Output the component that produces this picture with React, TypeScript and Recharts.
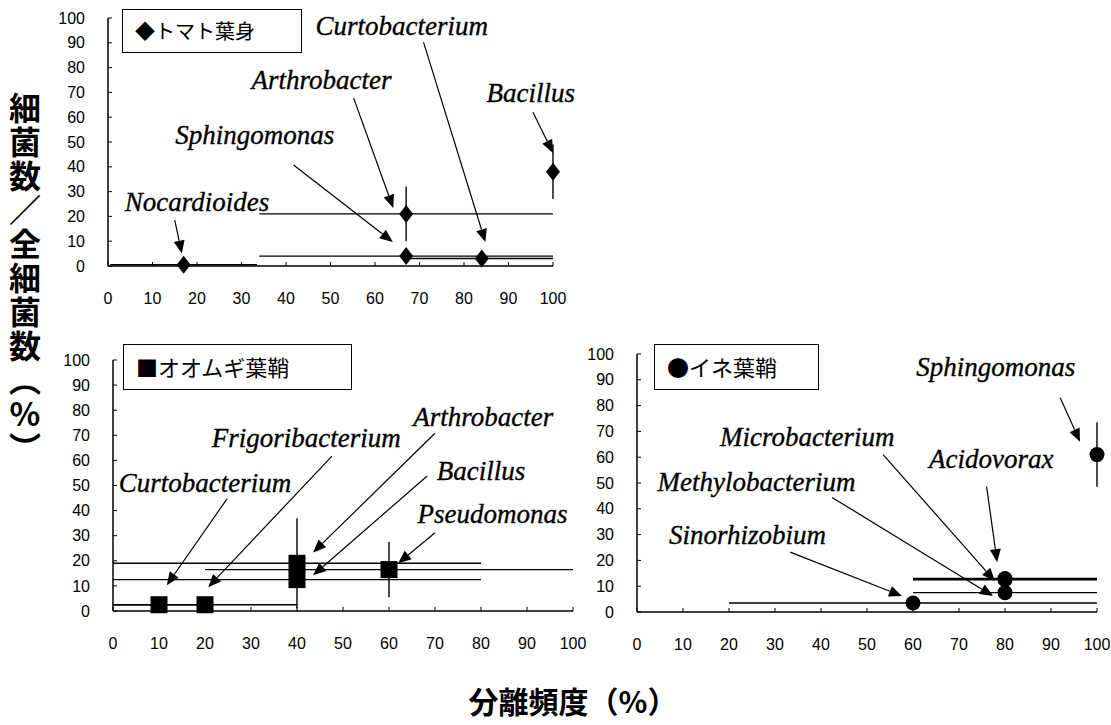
import { ScatterChart, Scatter, XAxis, YAxis, ErrorBar, ReferenceLine, ReferenceDot } from 'recharts';

const ticks = [0, 10, 20, 30, 40, 50, 60, 70, 80, 90, 100];

// トマト葉身
const tomatoNames = ['Nocardioides', 'Sphingomonas', 'Arthrobacter', 'Curtobacterium', 'Bacillus'];
const tomatoFreq = [17, 67, 67, 84, 100];
const tomatoRatio = [0.5, 4, 21, 3, 38];
const tomatoFreqErr = [16.5, 33, 33, 16, 0];
const tomatoRatioErr = [0, 0, 11, 0, 11];
const tomatoLabelPos = [[20, 26], [33, 53], [48, 75], [66, 97], [95, 70]];
const tomatoArrows = [
  [[15, 18.5], [16.6, 5]],
  [[41.7, 40.7], [64, 9.7]],
  [[55.2, 67.7], [64.1, 23.4]],
  [[70.9, 90.3], [84.8, 9.7]],
  [[95.5, 62], [100, 45.6]],
];

// オオムギ葉鞘
const barleyNames = ['Curtobacterium', 'Frigoribacterium', 'Arthrobacter', 'Bacillus', 'Pseudomonas'];
const barleyFreq = [10, 20, 40, 40, 60];
const barleyRatio = [2.5, 2.5, 19, 12.5, 16.5];
const barleyFreqErr = [10, 20, 40, 40, 40];
const barleyRatioErr = [0, 0, 18, 0, 11];
const barleyLabelPos = [[20, 51], [42, 69], [80.5, 77.5], [80, 56], [82.5, 39]];
const barleyArrows = [
  [[24.8, 44.7], [11.7, 10.3]],
  [[47.6, 61.7], [20.7, 9.5]],
  [[70, 70.8], [43.5, 23.3]],
  [[68.3, 53.8], [43.5, 14.2]],
  [[70, 31.2], [62, 19]],
];

// イネ葉鞘
const riceNames = ['Sinorhizobium', 'Methylobacterium', 'Microbacterium', 'Acidovorax', 'Sphingomonas'];
const riceFreq = [60, 80, 80, 80, 100];
const riceRatio = [3.5, 7.5, 12.5, 13, 61];
const riceFreqErr = [40, 20, 20, 20, 0];
const riceRatioErr = [0, 0, 0, 0, 12.5];
const riceLabelPos = [[24, 30], [26, 50.6], [37, 68], [77, 59.5], [78, 95]];
const riceArrows = [
  [[33.3, 23.2], [57.6, 6.2]],
  [[42.4, 44.4], [77.4, 6.2]],
  [[53.5, 61], [77.8, 12]],
  [[76, 48.6], [78.3, 19.3]],
  [[92, 83], [96.3, 66]],
];

const build = (names: string[], xs: number[], ys: number[], ex: number[], ey: number[]) =>
  names.map((name, i) => ({ name, x: xs[i], y: ys[i], ex: ex[i], ey: ey[i] }));

const tickFont = '"Liberation Sans", Arial, sans-serif';
const labelFont = '"Liberation Serif", "Times New Roman", serif';
const jpFont = '"Noto Sans CJK JP", sans-serif';

const YTick = (p: any) => (
  <g>
    <line x1={p.x} x2={p.x + 4} y1={p.y} y2={p.y} stroke="#000" strokeWidth={1} />
    <text x={p.x - 23} y={p.y} dy="0.35em" textAnchor="end" fontSize={16} fontFamily={tickFont} fill="#000">
      {p.payload.value}
    </text>
  </g>
);

const XTick = (p: any) => (
  <g>
    <line x1={p.x} x2={p.x} y1={p.y} y2={p.y - 4} stroke="#000" strokeWidth={1} />
    <text x={p.x} y={p.y + 32} dy="0.35em" textAnchor="middle" fontSize={16} fontFamily={tickFont} fill="#000">
      {p.payload.value}
    </text>
  </g>
);

const Arrow = (p: any) => {
  const { x1, y1, x2, y2 } = p;
  const dx = x2 - x1;
  const dy = y2 - y1;
  const len = Math.hypot(dx, dy) || 1;
  const ux = dx / len;
  const uy = dy / len;
  const L = 13;
  const W = 5.5;
  const bx = x2 - ux * L;
  const by = y2 - uy * L;
  return (
    <g>
      <line x1={x1} y1={y1} x2={bx} y2={by} stroke="#000" strokeWidth={1.2} />
      <polygon points={`${x2},${y2} ${bx - uy * W},${by + ux * W} ${bx + uy * W},${by - ux * W}`} fill="#000" />
    </g>
  );
};

const diamond = (p: any) => (
  <polygon points={`${p.cx},${p.cy - 9} ${p.cx + 7},${p.cy} ${p.cx},${p.cy + 9} ${p.cx - 7},${p.cy}`} fill="#000" />
);
const square = (p: any) => <rect x={p.cx - 8.5} y={p.cy - 8.5} width={17} height={17} fill="#000" />;
const circle = (p: any) => <circle cx={p.cx} cy={p.cy} r={7.5} fill="#000" />;

type PanelProps = {
  left: number;
  top: number;
  width: number;
  height: number;
  margin: { top: number; right: number; bottom: number; left: number };
  yWidth: number;
  data: any[];
  labelPos: number[][];
  arrows: number[][][];
  shape: any;
};

const Panel = ({ left, top, width, height, margin, yWidth, data, labelPos, arrows, shape }: PanelProps) => (
  <div style={{ position: 'absolute', left, top }}>
    <ScatterChart width={width} height={height} margin={margin}>
      <XAxis
        type="number"
        dataKey="x"
        domain={[0, 100]}
        ticks={ticks}
        height={40}
        tickSize={0}
        tickMargin={0}
        tickLine={false}
        axisLine={{ stroke: '#000', strokeWidth: 1.5 }}
        tick={(p: any) => <XTick {...p} />}
        interval={0}
      />
      <YAxis
        type="number"
        dataKey="y"
        domain={[0, 100]}
        ticks={ticks}
        width={yWidth}
        tickSize={0}
        tickMargin={0}
        tickLine={false}
        axisLine={{ stroke: '#000', strokeWidth: 1.5 }}
        tick={(p: any) => <YTick {...p} />}
        interval={0}
      />
      {arrows.map((a, i) => (
        <ReferenceLine
          key={`a${i}`}
          segment={[{ x: a[0][0], y: a[0][1] }, { x: a[1][0], y: a[1][1] }]}
          shape={(p: any) => <Arrow {...p} />}
          ifOverflow="visible"
        />
      ))}
      {labelPos.map((l, i) => (
        <ReferenceDot
          key={`l${i}`}
          x={l[0]}
          y={l[1]}
          r={0}
          ifOverflow="visible"
          shape={(p: any) => (
            <text
              x={p.cx}
              y={p.cy}
              dy="0.35em"
              textAnchor="middle"
              fontFamily={labelFont}
              fontStyle="italic"
              fontSize={27}
              fill="#000"
              stroke="#000"
              strokeWidth={0.35}
            >
              {data[i].name}
            </text>
          )}
        />
      ))}
      <Scatter data={data} shape={shape} isAnimationActive={false}>
        <ErrorBar dataKey="ex" direction="x" width={0} stroke="#000" strokeWidth={1.4} isAnimationActive={false} />
        <ErrorBar dataKey="ey" direction="y" width={0} stroke="#000" strokeWidth={1.4} isAnimationActive={false} />
      </Scatter>
    </ScatterChart>
  </div>
);

const legendBox = (left: number, top: number, width: number, height: number, text: string, size: number) => (
  <div
    style={{
      position: 'absolute',
      left,
      top,
      width,
      height,
      boxSizing: 'border-box',
      border: '1.5px solid #000',
      background: '#fff',
      fontFamily: jpFont,
      fontSize: size,
      lineHeight: `${height - 3}px`,
      paddingLeft: 12,
      whiteSpace: 'nowrap',
    }}
  >
    {text}
  </div>
);

export default function App() {
  const tomato = build(tomatoNames, tomatoFreq, tomatoRatio, tomatoFreqErr, tomatoRatioErr);
  const barley = build(barleyNames, barleyFreq, barleyRatio, barleyFreqErr, barleyRatioErr);
  const rice = build(riceNames, riceFreq, riceRatio, riceFreqErr, riceRatioErr);

  return (
    <div style={{ position: 'absolute', left: 0, top: 0, width: 1111, height: 725, background: '#fff', overflow: 'hidden' }}>
      <Panel
        left={0}
        top={0}
        width={600}
        height={330}
        margin={{ top: 18, right: 47, bottom: 24, left: 58 }}
        yWidth={50}
        data={tomato}
        labelPos={tomatoLabelPos}
        arrows={tomatoArrows}
        shape={diamond}
      />
      <Panel
        left={0}
        top={330}
        width={600}
        height={330}
        margin={{ top: 30, right: 27, bottom: 9, left: 63 }}
        yWidth={50}
        data={barley}
        labelPos={barleyLabelPos}
        arrows={barleyArrows}
        shape={square}
      />
      <Panel
        left={580}
        top={330}
        width={531}
        height={330}
        margin={{ top: 24, right: 14, bottom: 8, left: 27 }}
        yWidth={30}
        data={rice}
        labelPos={riceLabelPos}
        arrows={riceArrows}
        shape={circle}
      />
      {legendBox(122, 9, 180, 44, '◆トマト葉身', 20)}
      {legendBox(123, 344, 229, 46, '■オオムギ葉鞘', 22)}
      {legendBox(654, 344, 165, 46, '●イネ葉鞘', 22)}
      <div
        style={{
          position: 'absolute',
          left: 9,
          top: 92,
          writingMode: 'vertical-rl',
          textOrientation: 'upright',
          fontFamily: jpFont,
          fontWeight: 700,
          fontSize: 32,
          lineHeight: '32px',
          letterSpacing: 2,
        }}
      >
        細菌数／全細菌数（%）
      </div>
      <div
        style={{
          position: 'absolute',
          left: 0,
          width: 1146,
          top: 682,
          textAlign: 'center',
          fontFamily: jpFont,
          fontWeight: 700,
          fontSize: 30,
          lineHeight: '36px',
        }}
      >
        分離頻度（%）
      </div>
    </div>
  );
}
